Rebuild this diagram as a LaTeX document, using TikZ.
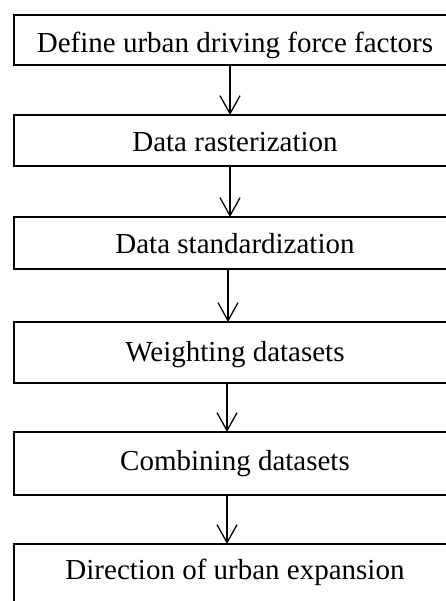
\documentclass[tikz,border=0pt]{standalone}
\usepackage{fontspec}
\setmainfont{Liberation Serif}
\usetikzlibrary{arrows.meta, positioning}

\begin{document}
\begin{tikzpicture}[font=\fontsize{29pt}{34pt}\selectfont,node distance=50pt,>={Straight Barb[length=18pt,width=20pt]},line width=1.3pt]

	\useasboundingbox (0,0) rectangle (446pt,-601pt);
	\clip (0,0) rectangle (446pt,-601pt);

	\tikzset{stage box/.style={rectangle, draw=black, line width=2pt,
			minimum width=442pt, minimum height=51pt,
			inner sep=0pt, outer sep=0pt, text depth=0pt, text=black}}

	\node[stage box, minimum height=50pt, text height=26pt] (D) at (235pt,-40pt) {Define urban driving force factors};
	\node[stage box, text height=23pt, below=of D] (R) {Data rasterization};
	\node[stage box, minimum height=52pt, text height=22pt, below=51pt of R] (S) {Data standardization};
	\node[stage box, minimum height=61pt, text height=17pt, below=53pt of S] (W) {Weighting datasets};
	\node[stage box, minimum height=63pt, text height=13pt, below=49pt of W] (C) {Combining datasets};
	\node[stage box, minimum height=63pt, text height=7pt, below=49pt of C] (E) {Direction of urban expansion};

	\draw[draw=black]
	([xshift=-5pt]D.south) edge[->] ([xshift=-5pt]R.north)
	([xshift=-5pt]R.south) edge[->] ([xshift=-5pt]S.north)
	([xshift=-7pt]S.south) edge[->] ([xshift=-7pt]W.north)
	([xshift=-8pt]W.south) edge[->] ([xshift=-8pt]C.north)
	([xshift=-8pt]C.south) edge[->] ([xshift=-8pt]E.north);

\end{tikzpicture}
\end{document}
